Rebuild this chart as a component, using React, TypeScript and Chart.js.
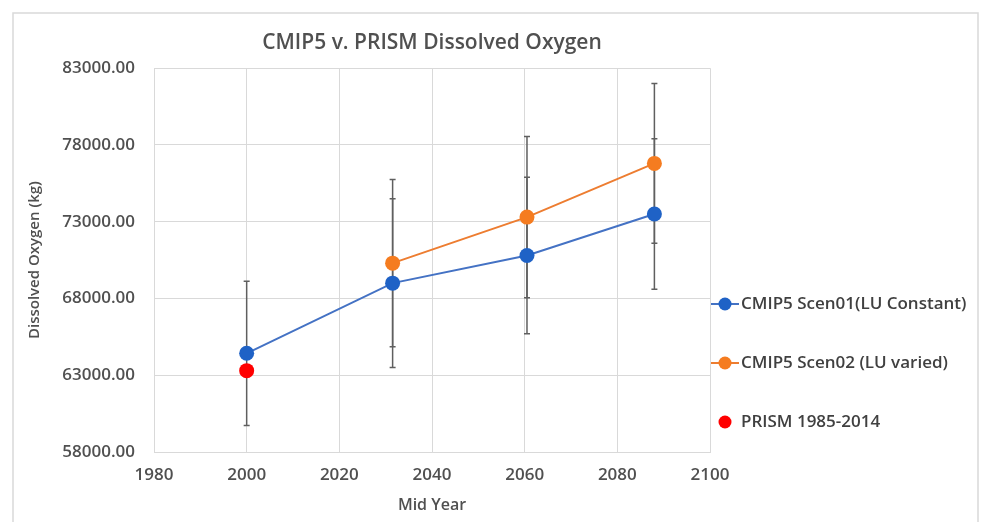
import React, { useEffect, useRef } from 'react';
import { Chart, registerables } from 'chart.js';

Chart.register(...registerables);

const TITLE = 'CMIP5 v. PRISM Dissolved Oxygen';
const X_TITLE = 'Mid Year';
const Y_TITLE = 'Dissolved Oxygen (kg)';

const seriesLabels = ['CMIP5 Scen01(LU Constant)', 'CMIP5 Scen02 (LU varied)', 'PRISM 1985-2014'];

const scen01Years = [2000, 2031.5, 2060.5, 2088];
const scen01Values = [64430, 69000, 70800, 73500];
const scen01Errors = [4700, 5500, 5100, 4900];

const scen02Years = [2031.5, 2060.5, 2088];
const scen02Values = [70300, 73300, 76800];
const scen02Errors = [5450, 5250, 5200];

const prismYears = [2000];
const prismValues = [63300];
const prismErrors: number[] = [];

const xMin = 1980;
const xMax = 2100;
const xStep = 20;
const yMin = 58000;
const yMax = 83000;
const yStep = 5000;

const FONT = '"Open Sans", "Liberation Sans", sans-serif';
const TEXT = '#505050';
const GRID = '#d9d9d9';

const errorsByDataset = [scen01Errors, scen02Errors, prismErrors];

const errorBarPlugin = {
  id: 'errorBars',
  beforeDatasetsDraw(chart: any) {
    const ctx = chart.ctx;
    const xs = chart.scales.x;
    const ys = chart.scales.y;
    ctx.save();
    ctx.strokeStyle = '#5f5f5f';
    ctx.lineWidth = 1.5;
    chart.data.datasets.forEach((ds: any, i: number) => {
      const errs = errorsByDataset[i] || [];
      ds.data.forEach((p: any, j: number) => {
        const e = errs[j];
        if (e == null) return;
        const x = xs.getPixelForValue(p.x);
        const yt = ys.getPixelForValue(p.y + e);
        const yb = ys.getPixelForValue(p.y - e);
        ctx.beginPath();
        ctx.moveTo(x, yt);
        ctx.lineTo(x, yb);
        ctx.moveTo(x - 3, yt);
        ctx.lineTo(x + 3, yt);
        ctx.moveTo(x - 3, yb);
        ctx.lineTo(x + 3, yb);
        ctx.stroke();
      });
    });
    ctx.restore();
  },
};

const framePlugin = {
  id: 'frame',
  beforeDraw(chart: any) {
    const ctx = chart.ctx;
    ctx.save();
    ctx.fillStyle = '#ffffff';
    ctx.fillRect(0, 0, chart.width, chart.height);
    ctx.strokeStyle = GRID;
    ctx.lineWidth = 1.5;
    ctx.strokeRect(13, 13, chart.width - 16, chart.height + 20);
    ctx.restore();
  },
};

const legendPlugin = {
  id: 'customLegend',
  afterDraw(chart: any) {
    const ctx = chart.ctx;
    const area = chart.chartArea;
    const x0 = area.right + 1;
    ctx.save();
    ctx.font = `600 17px ${FONT}`;
    ctx.textBaseline = 'middle';
    ctx.textAlign = 'left';
    chart.data.datasets.forEach((ds: any, i: number) => {
      const y = 304 + i * 59;
      if (ds.showLine !== false) {
        ctx.strokeStyle = ds.borderColor;
        ctx.lineWidth = 2;
        ctx.beginPath();
        ctx.moveTo(x0, y);
        ctx.lineTo(x0 + 28, y);
        ctx.stroke();
      }
      ctx.fillStyle = ds.pointBackgroundColor;
      ctx.beginPath();
      ctx.arc(x0 + 14, y, 6.5, 0, Math.PI * 2);
      ctx.fill();
      ctx.fillStyle = '#404040';
      ctx.fillText(ds.label, x0 + 30, y);
    });
    ctx.restore();
  },
};

export default function App() {
  const ref = useRef<HTMLCanvasElement | null>(null);

  useEffect(() => {
    if (!ref.current) return;
    const chart = new Chart(ref.current, {
      type: 'line',
      data: {
        datasets: [
          {
            label: seriesLabels[0],
            data: scen01Years.map((x, i) => ({ x, y: scen01Values[i] })),
            borderColor: '#4472c4',
            borderWidth: 2,
            pointBackgroundColor: '#1f62c6',
            pointBorderColor: '#1f62c6',
            pointRadius: 7.5,
            pointBorderWidth: 0,
            tension: 0,
          },
          {
            label: seriesLabels[1],
            data: scen02Years.map((x, i) => ({ x, y: scen02Values[i] })),
            borderColor: '#ed7d31',
            borderWidth: 2,
            pointBackgroundColor: '#f57c20',
            pointBorderColor: '#f57c20',
            pointRadius: 7.5,
            pointBorderWidth: 0,
            tension: 0,
          },
          {
            label: seriesLabels[2],
            data: prismYears.map((x, i) => ({ x, y: prismValues[i] })),
            borderColor: '#ff0000',
            showLine: false,
            pointBackgroundColor: '#ff0000',
            pointBorderColor: '#ff0000',
            pointRadius: 7.5,
            pointBorderWidth: 0,
          },
        ],
      },
      options: {
        responsive: false,
        animation: false,
        layout: { padding: { left: 0, right: 271, top: 0, bottom: 0 } },
        plugins: {
          legend: { display: false },
          tooltip: { enabled: false },
          title: {
            display: true,
            text: TITLE,
            fullSize: false,
            color: TEXT,
            font: { family: FONT, size: 21, weight: '600' },
            padding: { top: 30, bottom: 13 },
          },
        },
        scales: {
          x: {
            type: 'linear',
            min: xMin,
            max: xMax,
            afterFit(scale: any) {
              scale.height = 70;
            },
            ticks: {
              stepSize: xStep,
              color: TEXT,
              font: { family: FONT, size: 17, weight: '600' },
              padding: 13,
              maxRotation: 0,
              callback: (v: any) => String(v),
            },
            grid: { color: GRID, lineWidth: 1, drawTicks: false },
            border: { color: GRID, width: 1 },
            title: {
              display: true,
              text: X_TITLE,
              color: TEXT,
              font: { family: FONT, size: 16, weight: '600' },
              padding: { top: 0, bottom: 7 },
            },
          },
          y: {
            type: 'linear',
            min: yMin,
            max: yMax,
            afterFit(scale: any) {
              scale.width = 154;
            },
            ticks: {
              stepSize: yStep,
              color: TEXT,
              font: { family: FONT, size: 17, weight: '600' },
              padding: 19,
              callback: (v: any) => Number(v).toFixed(2),
            },
            grid: { color: GRID, lineWidth: 1, drawTicks: false },
            border: { color: GRID, width: 1 },
            title: {
              display: true,
              text: Y_TITLE,
              color: TEXT,
              font: { family: FONT, size: 15, weight: '600' },
              padding: { top: 26, bottom: 0 },
            },
          },
        },
      },
      plugins: [framePlugin, errorBarPlugin, legendPlugin],
    } as any);
    return () => chart.destroy();
  }, []);

  return (
    <div style={{ position: 'absolute', left: 0, top: 0, width: 981, height: 522 }}>
      <canvas ref={ref} width={981} height={522} style={{ width: 981, height: 522, display: 'block' }} />
    </div>
  );
}
